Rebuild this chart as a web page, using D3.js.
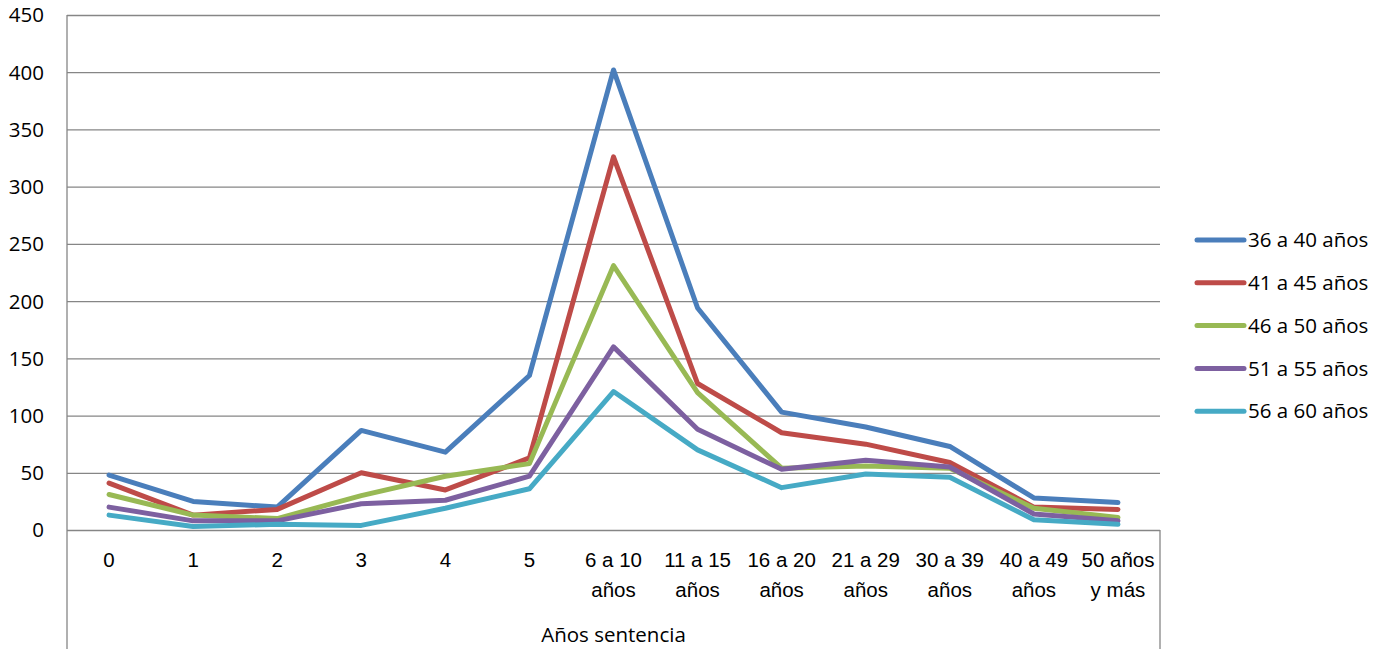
<!DOCTYPE html>
<html>
<head>
<meta charset="utf-8">
<script src="https://cdn.jsdelivr.net/npm/d3@7"></script>
<style>
  html, body { margin: 0; padding: 0; background: #fff; }
  svg { display: block; font-family: "Open Sans", sans-serif; }
</style>
</head>
<body>
<svg id="chart" width="1386" height="649"></svg>
<script>
const categories = ["0","1","2","3","4","5","6 a 10 años","11 a 15 años","16 a 20 años","21 a 29 años","30 a 39 años","40 a 49 años","50 años y más"];
const categoryLabels = [["0"],["1"],["2"],["3"],["4"],["5"],["6 a 10","años"],["11 a 15","años"],["16 a 20","años"],["21 a 29","años"],["30 a 39","años"],["40 a 49","años"],["50 años","y más"]];
const seriesNames = ["36 a 40 años","41 a 45 años","46 a 50 años","51 a 55 años","56 a 60 años"];
const s36a40 = [48, 25, 20, 87, 68, 135, 402, 194, 103, 90, 73, 28, 24];
const s41a45 = [41, 13, 18, 50, 35, 63, 326, 128, 85, 75, 59, 20, 18];
const s46a50 = [31, 13, 10, 30, 47, 58, 231, 120, 54, 56, 54, 19, 11];
const s51a55 = [20, 8, 8, 23, 26, 47, 160, 88, 53, 61, 55, 14, 8];
const s56a60 = [13, 3, 5, 4, 19, 36, 121, 70, 37, 49, 46, 9, 5];
const yTicks = [0, 50, 100, 150, 200, 250, 300, 350, 400, 450];
const axisTitle = "Años sentencia";

const seriesValues = [s36a40, s41a45, s46a50, s51a55, s56a60];
const colors = ["#4A7EBB", "#BE4B48", "#98B954", "#7D60A0", "#46AAC5"];

const svg = d3.select("#chart");
const plotL = 67, plotR = 1160, plotT = 15, plotB = 530;
const fs = 20.5;

const x = d3.scaleBand().domain(categories).range([plotL, plotR]).paddingInner(0).paddingOuter(0);
const y = d3.scaleLinear().domain([0, 450]).range([plotB, plotT]);
const cx = d => x(d) + x.bandwidth() / 2;

const gridColor = "#868686";

// gridlines + y labels
const yAxis = d3.axisLeft(y).tickValues(yTicks).tickSize(-(plotR - plotL)).tickPadding(23).tickFormat(d3.format("d"));
const gy = svg.append("g").attr("transform", `translate(${plotL},0)`).call(yAxis);
gy.select(".domain").remove();
gy.selectAll(".tick line").attr("stroke", gridColor).attr("stroke-width", 1.3);
gy.selectAll(".tick text").attr("fill", "#000").attr("font-size", fs).attr("font-family", "Open Sans, sans-serif").attr("dy", "0.34em");

// left axis line extended to bottom, right box line below plot
svg.append("line").attr("x1", plotL).attr("x2", plotL).attr("y1", plotT).attr("y2", 649)
  .attr("stroke", gridColor).attr("stroke-width", 1.3);
svg.append("line").attr("x1", plotR).attr("x2", plotR).attr("y1", plotB).attr("y2", 649)
  .attr("stroke", gridColor).attr("stroke-width", 1.3);

// category labels
const xAxis = d3.axisBottom(x).tickSize(0).tickFormat("");
const gx = svg.append("g").attr("transform", `translate(0,${plotB})`).call(xAxis);
gx.select(".domain").remove();
gx.selectAll(".tick").each(function(d, i) {
  const t = d3.select(this).append("text")
    .attr("fill", "#000").attr("font-size", fs).attr("text-anchor", "middle");
  categoryLabels[i].forEach((ln, j) => {
    t.append("tspan").attr("x", 0).attr("y", 37 + j * 30).text(ln);
  });
});

// axis title
svg.append("text").attr("x", (plotL + plotR) / 2).attr("y", 642)
  .attr("text-anchor", "middle").attr("font-size", fs).attr("fill", "#000").text(axisTitle);

// lines
const line = d3.line().x((d, i) => cx(categories[i])).y(d => y(d));
seriesValues.forEach((vals, k) => {
  svg.append("path").datum(vals).attr("d", line)
    .attr("fill", "none").attr("stroke", colors[k]).attr("stroke-width", 5)
    .attr("stroke-linejoin", "round").attr("stroke-linecap", "round");
});

// legend
const lg = svg.append("g");
seriesNames.forEach((name, k) => {
  const ly = 240 + k * 42.8;
  lg.append("line").attr("x1", 1197).attr("x2", 1244).attr("y1", ly).attr("y2", ly)
    .attr("stroke", colors[k]).attr("stroke-width", 5).attr("stroke-linecap", "round");
  lg.append("text").attr("x", 1248).attr("y", ly).attr("dy", "0.35em")
    .attr("font-size", fs).attr("fill", "#000").text(name);
});
</script>
</body>
</html>
